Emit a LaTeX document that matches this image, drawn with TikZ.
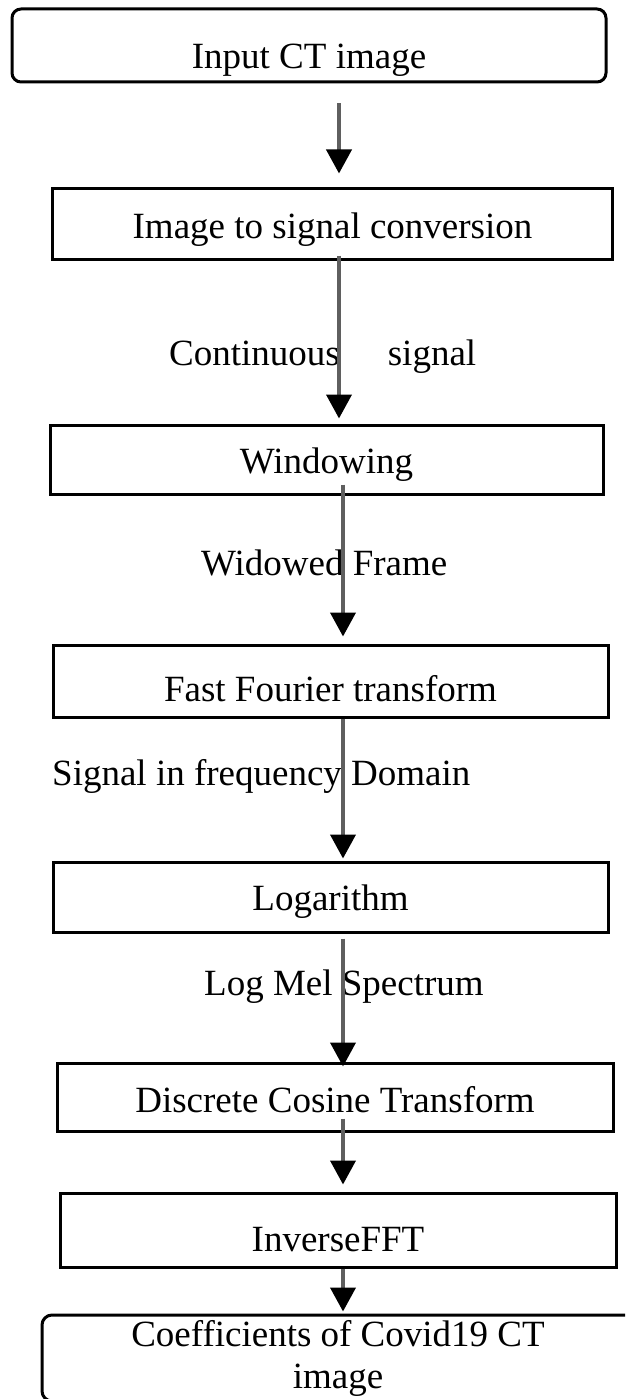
\documentclass[tikz,border=0pt]{standalone}
\usepackage{fontspec}
\setmainfont{Liberation Serif}
\usetikzlibrary{arrows.meta,calc}
\definecolor{conncol}{RGB}{95,95,95}
\begin{document}
\begin{tikzpicture}[x=1pt,y=-1pt,
  stepbox/.style={draw=black, line width=3pt, inner sep=0pt,
    font=\fontsize{37}{42}\selectfont, text depth=0pt},
  conn/.style={draw=conncol, line width=4pt,
    -{Triangle[length=24pt,width=25pt,color=black]}},
  lbl/.style={inner sep=0pt, font=\fontsize{37}{42}\selectfont, anchor=base west}]
\useasboundingbox (0,0) rectangle (625,1399);
\clip (0,0) rectangle (625,1399);
\fill[white] (0,0) rectangle (625,1399);

% boxes
\node[stepbox, rounded corners=9pt, minimum width=594pt, minimum height=73pt, text height=46pt] (in) at (309,45.5) {Input CT image};
\node[stepbox, minimum width=560pt, minimum height=70pt, text height=29pt] (sig) at (332.5,224) {Image to signal conversion};
\node[stepbox, minimum width=553pt, minimum height=69pt, text height=27pt] (win) at (326.5,459.5) {Windowing};
\node[stepbox, minimum width=555pt, minimum height=72pt, text height=40pt] (fft) at (330.5,681) {Fast Fourier transform};
\node[stepbox, minimum width=555pt, minimum height=70pt, text height=26pt] (log) at (330.5,897) {Logarithm};
\node[stepbox, minimum width=556pt, minimum height=68pt, text height=31pt] (dct) at (335,1097) {Discrete Cosine Transform};
\node[stepbox, minimum width=556pt, minimum height=74pt, text height=42pt] (ifft) at (338,1230) {InverseFFT};
\node[stepbox, rounded corners=10pt, minimum width=658pt, minimum height=86pt] (coef) at (371,1358) {};
\node[inner sep=0pt, align=center, anchor=north, font=\fontsize{37}{42}\selectfont] (coeft) at (338,1320.5) {Coefficients of Covid19 CT\\image};

% connector labels
\node[lbl] (lcont) at (169,365) {Continuous\hspace{48pt}signal};
\node[lbl] (lwf) at (201,575) {Widowed Frame};
\node[lbl] (lsfd) at (52,785) {Signal in frequency Domain};
\node[lbl] (llms) at (204,995) {Log Mel Spectrum};

% connectors
\draw[conn] ($(in.south)+(30,20)$) -- ($(sig.north)+(6.5,-14)$);
\draw[conn] ($(sig.south)+(6.5,-5)$) -- ($(win.north)+(12.5,-5)$);
\draw[conn] ($(win.south)+(16.5,-11)$) -- ($(fft.north)+(12.5,-7)$);
\draw[conn] ($(fft.south)+(12.5,0)$) -- ($(log.north)+(12.5,-2)$);
\draw[conn] ($(log.south)+(12.5,5)$) -- ($(dct.north)+(8,5)$);
\draw[conn] ($(dct.south)+(8,-14)$) -- ($(ifft.north)+(5,-7)$);
\draw[conn] ($(ifft.south)+(5,0)$) -- ($(coef.north)+(-28,-2)$);
\end{tikzpicture}
\end{document}
